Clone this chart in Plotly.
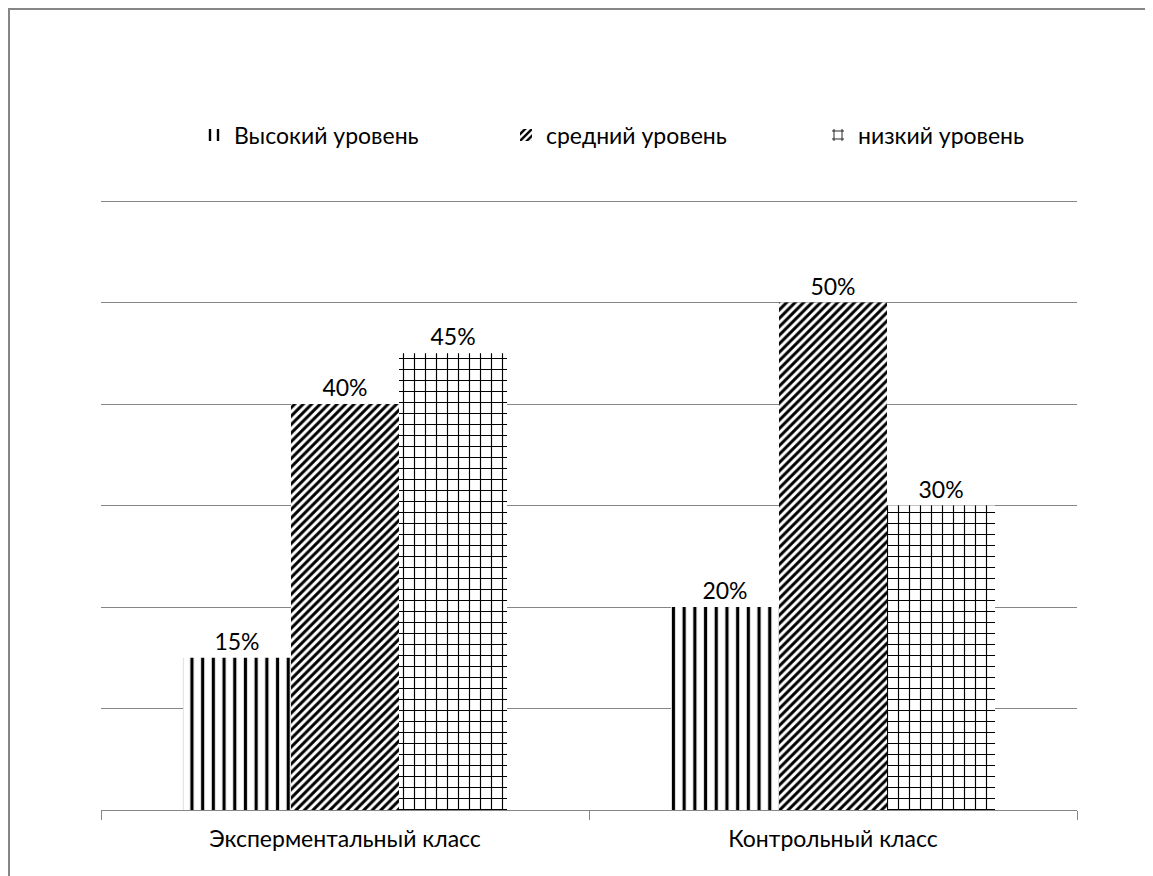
import plotly.graph_objects as go

categories = ["Эксперментальный класс", "Контрольный класс"]
series_names = ["Высокий уровень", "средний уровень", "низкий уровень"]
high = [15, 20]
mid = [40, 50]
low = [45, 30]
label_text_high = ["15%", "20%"]
label_text_mid = ["40%", "50%"]
label_text_low = ["45%", "30%"]

W, H = 1153, 876
L, R, T, B = 93, 84, 191, 74

font_family = "Lato, 'Open Sans', sans-serif"
grey = "#868686"

fig = go.Figure()
styles = [
    (high, label_text_high, "|", 10.7, 0.3),
    (mid, label_text_mid, "/", 6, 0.5),
    (low, label_text_low, "+", 11, 0.2),
]
for name, (vals, txt, shape, size, sol) in zip(series_names, styles):
    fig.add_trace(go.Bar(
        x=categories, y=vals, name=name,
        text=txt,
        textposition="outside",
        textfont=dict(size=23, color="#000000", family=font_family),
        cliponaxis=False,
        marker=dict(color="white",
                    line=dict(width=0),
                    pattern=dict(shape=shape, size=size, solidity=sol,
                                 fgcolor="black", fgopacity=1, bgcolor="white",
                                 fillmode="replace")),
    ))

pw = W - L - R
ph = H - T - B
fig.add_shape(type="rect", xref="paper", yref="paper",
              x0=(1 - L) / pw, x1=(W + 20 - L) / pw,
              y0=-(B + 20) / ph, y1=(ph + T - 1) / ph,
              line=dict(color=grey, width=2), fillcolor="rgba(0,0,0,0)", layer="below")

fig.update_layout(
    width=W, height=H,
    margin=dict(l=L, r=R, t=T, b=B),
    paper_bgcolor="white", plot_bgcolor="white",
    barmode="group", bargap=0.336, bargroupgap=0,
    font=dict(family=font_family, size=23, color="#000000"),
    showlegend=True,
    legend=dict(orientation="h", x=(186 - L) / pw, xanchor="left",
                y=(ph + T - 127) / ph, yanchor="middle",
                entrywidth=267, entrywidthmode="pixels",
                font=dict(size=23, family=font_family), itemwidth=30),
    xaxis=dict(showline=True, linecolor=grey, linewidth=1,
               ticks="outside", tickson="boundaries", ticklen=9,
               tickcolor=grey, tickfont=dict(size=23), ticklabelstandoff=8),
    yaxis=dict(range=[0, 60.2], tickvals=[10, 20, 30, 40, 50, 60], showgrid=True,
               gridcolor=grey, gridwidth=1, showticklabels=False,
               zeroline=False, ticks=""),
)

fig.write_html("out.html")
